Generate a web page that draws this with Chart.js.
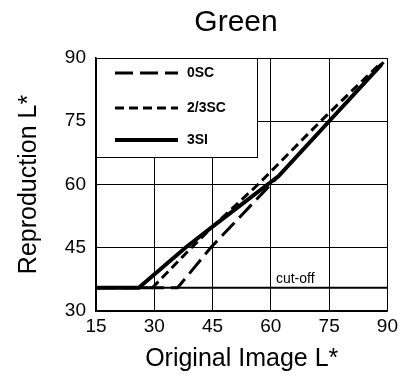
<!DOCTYPE html>
<html>
<head>
<meta charset="utf-8">
<script src="https://cdn.jsdelivr.net/npm/chart.js@4.4.1/dist/chart.umd.min.js"></script>
<style>
  html, body { margin: 0; padding: 0; background: #fff; }
  #wrap { width: 402px; height: 386px; }
</style>
</head>
<body>
<div id="wrap"><canvas id="greenChart" width="402" height="386"></canvas></div>
<script>
// values (Original L* -> Reproduction L*)
const xTicks = [15, 30, 45, 60, 75, 90];
const yTicks = [30, 45, 60, 75, 90];

const x0SC = [15, 36, 44.5, 61, 75, 89];
const y0SC = [35.5, 35.5, 45, 61, 75, 89];

const x23SC = [15, 29.5, 39, 45, 56.7, 72.8, 88.5];
const y23SC = [35.5, 35.5, 44.5, 50, 60, 75, 89];

const x3SI = [15, 26, 38, 45, 62, 75, 88.5];
const y3SI = [35.5, 35.5, 45, 50, 62, 75, 88.5];

const cutoffX = [15, 90];
const cutoffY = [35.5, 35.5];

const FONT = "'Liberation Sans', Arial, Helvetica, sans-serif";
const pts = (xs, ys) => xs.map((x, i) => ({ x: x, y: ys[i] }));

// title, boxed legend and the cut-off note
const decor = {
    id: 'decor',
    afterDatasetsDraw(chart) {
        const ctx = chart.ctx; const a = chart.chartArea;
        const xs = chart.scales.x, ys = chart.scales.y;
        ctx.save();
        ctx.fillStyle = '#000';
        ctx.font = '30px ' + FONT; ctx.textAlign = 'center'; ctx.textBaseline = 'middle';
        ctx.fillText('Green', 236, 23);

        ctx.font = '14px ' + FONT; ctx.textAlign = 'left'; ctx.textBaseline = 'alphabetic';
        ctx.fillText('cut-off', xs.getPixelForValue(61.3), ys.getPixelForValue(cutoffY[0]) - 5);

        // legend box
        const bx = a.left, by = a.top, bw = 161, bh = 99;
        ctx.fillStyle = '#fff'; ctx.fillRect(bx, by, bw, bh);
        ctx.strokeStyle = '#000'; ctx.lineWidth = 1; ctx.strokeRect(bx + 0.5, by + 0.5, bw, bh);
        const rows = [15, 50, 82];
        chart.data.datasets.forEach((ds, i) => {
            if (ds.hideLegend) return;
            const yy = by + rows[i];
            ctx.beginPath();
            ctx.setLineDash(ds.borderDash || []);
            ctx.lineWidth = ds.borderWidth; ctx.strokeStyle = '#000';
            ctx.moveTo(bx + 19, yy); ctx.lineTo(bx + 82, yy); ctx.stroke();
            ctx.setLineDash([]);
            ctx.fillStyle = '#000'; ctx.font = 'bold 14px ' + FONT; ctx.textBaseline = 'middle';
            ctx.fillText(ds.label, bx + 91, yy);
        });
        ctx.restore();
    }
};

new Chart(document.getElementById('greenChart').getContext('2d'), {
    type: 'line',
    data: {
        datasets: [
            { label: '0SC', data: pts(x0SC, y0SC), borderColor: '#000', borderWidth: 3, borderDash: [18, 7], pointRadius: 0, tension: 0 },
            { label: '2/3SC', data: pts(x23SC, y23SC), borderColor: '#000', borderWidth: 3, borderDash: [9, 5], pointRadius: 0, tension: 0 },
            { label: '3SI', data: pts(x3SI, y3SI), borderColor: '#000', borderWidth: 4, pointRadius: 0, tension: 0 },
            { label: 'cut-off', hideLegend: true, data: pts(cutoffX, cutoffY), borderColor: '#000', borderWidth: 2, pointRadius: 0 }
        ]
    },
    options: {
        responsive: false, animation: false,
        layout: { padding: { top: 58, right: 11, left: 0, bottom: 0 } },
        plugins: { legend: { display: false }, tooltip: { enabled: false }, title: { display: false } },
        scales: {
            x: {
                type: 'linear', min: 15, max: 90,
                afterBuildTicks: s => { s.ticks = xTicks.map(v => ({ value: v })); },
                afterFit: s => { s.height = 75; },
                grid: { color: '#000', lineWidth: 1, drawTicks: false },
                border: { color: '#000', width: 1.5 },
                ticks: { color: '#000', font: { family: FONT, size: 19 }, padding: 4, maxRotation: 0 },
                title: { display: true, text: 'Original Image L*', color: '#000', font: { family: FONT, size: 25 }, padding: { top: 0, bottom: 12 } }
            },
            y: {
                type: 'linear', min: 30, max: 90,
                afterBuildTicks: s => { s.ticks = yTicks.map(v => ({ value: v })); },
                afterFit: s => { s.width = 96; },
                grid: { color: '#000', lineWidth: 1, drawTicks: false },
                border: { color: '#000', width: 1.5 },
                ticks: { color: '#000', font: { family: FONT, size: 19 }, padding: 10 },
                title: { display: true, text: 'Reproduction L*', color: '#000', font: { family: FONT, size: 25 }, padding: { top: 14, bottom: 0 } }
            }
        }
    },
    plugins: [decor]
});
</script>
</body>
</html>
